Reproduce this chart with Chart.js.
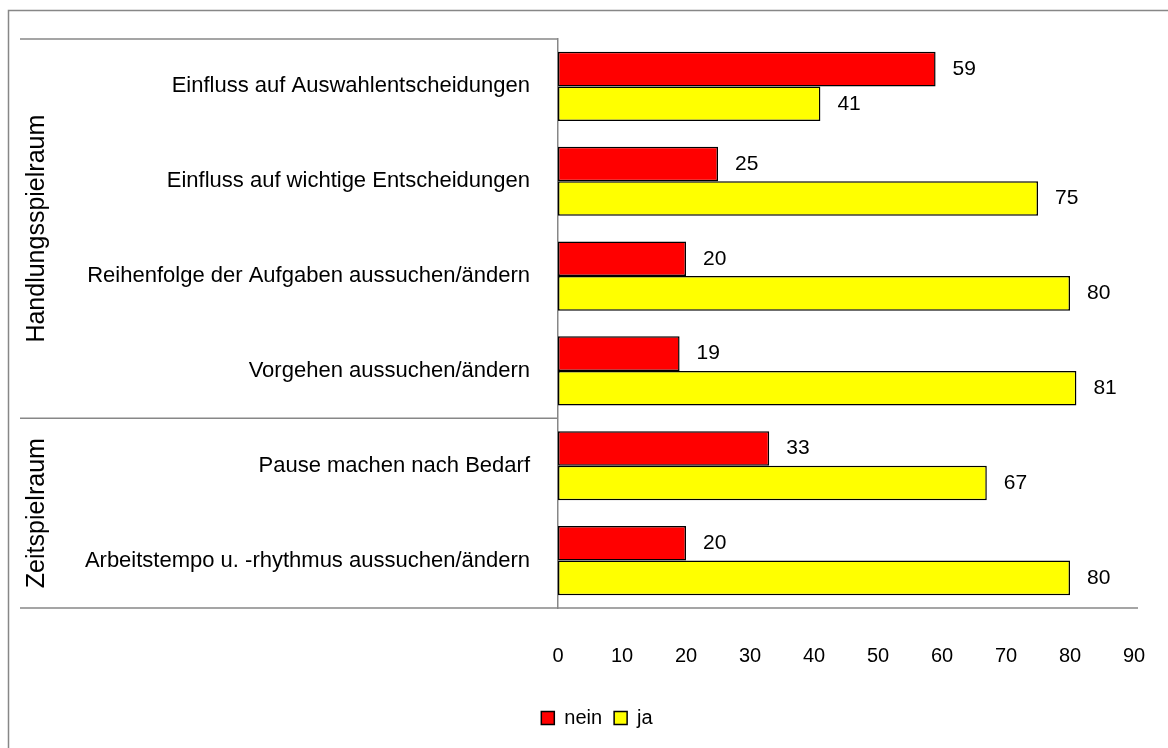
<!DOCTYPE html>
<html>
<head>
<meta charset="utf-8">
<script src="https://cdn.jsdelivr.net/npm/chart.js@4/dist/chart.umd.min.js"></script>
<style>
  html, body { margin: 0; padding: 0; background: #fff; }
  #wrap { width: 1168px; height: 748px; }
</style>
</head>
<body>
<div id="wrap"><canvas id="chart" width="1168" height="748"></canvas></div>
<script>
// Daten (Prozent)
const categories = [
    'Einfluss auf Auswahlentscheidungen',
    'Einfluss auf wichtige Entscheidungen',
    'Reihenfolge der Aufgaben aussuchen/ändern',
    'Vorgehen aussuchen/ändern',
    'Pause machen nach Bedarf',
    'Arbeitstempo u. -rhythmus aussuchen/ändern'
];
const neinValues = [59, 25, 20, 19, 33, 20];
const jaValues = [41, 75, 80, 81, 67, 80];
const groupNames = ['Handlungsspielraum', 'Zeitspielraum'];
const groupSizes = [4, 2];
const xTicks = [0, 10, 20, 30, 40, 50, 60, 70, 80, 90];

const FONT = 'Liberation Sans, Arial, sans-serif';
const LINE = '#878787';

// Rahmen, Tabellenlinien und Gruppenbeschriftungen
const tablePlugin = {
    id: 'tableLines',
    afterLayout(chart) {
        // Legende etwas nach rechts, wie im Original
        if (chart.legend) {
            chart.legend.left += 30;
            chart.legend.right += 30;
        }
    },
    beforeDraw(chart) {
        const ctx = chart.ctx;
        ctx.save();
        ctx.strokeStyle = LINE;
        ctx.lineWidth = 1.5;
        ctx.beginPath();
        ctx.moveTo(8.5, chart.height);
        ctx.lineTo(8.5, 10.5);
        ctx.lineTo(chart.width, 10.5);
        ctx.stroke();
        ctx.restore();
    },
    afterDraw(chart) {
        const ctx = chart.ctx;
        const area = chart.chartArea;
        const y = chart.scales.y;
        const left = 20;
        ctx.save();
        ctx.strokeStyle = LINE;
        ctx.lineWidth = 1.5;

        // Linien oben, zwischen den Gruppen und unten
        const bounds = [area.top];
        let idx = 0;
        groupSizes.forEach(n => {
            idx += n;
            if (idx < categories.length) {
                bounds.push((y.getPixelForValue(idx - 1) + y.getPixelForValue(idx)) / 2);
            }
        });
        bounds.forEach(b => {
            ctx.beginPath();
            ctx.moveTo(left, b);
            ctx.lineTo(area.left, b);
            ctx.stroke();
        });
        ctx.beginPath();
        ctx.moveTo(left, area.bottom);
        ctx.lineTo(area.right + 4, area.bottom);
        ctx.stroke();
        bounds.push(area.bottom);

        // Gruppennamen, gedreht
        ctx.fillStyle = '#000';
        ctx.font = '25px ' + FONT;
        ctx.textAlign = 'center';
        ctx.textBaseline = 'middle';
        groupNames.forEach((name, i) => {
            const cy = (bounds[i] + bounds[i + 1]) / 2;
            ctx.save();
            ctx.translate(37, cy);
            ctx.rotate(-Math.PI / 2);
            ctx.fillText(name, 0, 0);
            ctx.restore();
        });
        ctx.restore();
    }
};

// Werte rechts neben den Balken
const valueLabels = {
    id: 'valueLabels',
    afterDatasetsDraw(chart) {
        const ctx = chart.ctx;
        ctx.save();
        ctx.fillStyle = '#000';
        ctx.font = '21px ' + FONT;
        ctx.textAlign = 'left';
        ctx.textBaseline = 'middle';
        chart.data.datasets.forEach((ds, i) => {
            chart.getDatasetMeta(i).data.forEach((bar, j) => {
                ctx.fillText(String(ds.data[j]), bar.x + 17, bar.y);
            });
        });
        ctx.restore();
    }
};

const PAD_BOTTOM = 10;

new Chart(document.getElementById('chart'), {
    type: 'bar',
    data: {
        labels: categories,
        datasets: [
            {
                label: 'nein',
                data: neinValues,
                backgroundColor: '#FF0000',
                borderColor: '#000',
                borderWidth: 1.5,
                borderSkipped: false
            },
            {
                label: 'ja',
                data: jaValues,
                backgroundColor: '#FFFF00',
                borderColor: '#000',
                borderWidth: 1.5,
                borderSkipped: false
            }
        ]
    },
    options: {
        indexAxis: 'y',
        responsive: false,
        animation: false,
        datasets: {
            bar: {
                barPercentage: 1,
                categoryPercentage: 0.73
            }
        },
        layout: {
            padding: { top: 39, right: 34, left: 0, bottom: PAD_BOTTOM }
        },
        plugins: {
            legend: {
                position: 'bottom',
                labels: {
                    color: '#000',
                    font: { family: FONT, size: 20 },
                    boxWidth: 13,
                    boxHeight: 13,
                    padding: 12
                }
            },
            tooltip: { enabled: false }
        },
        scales: {
            x: {
                min: 0,
                max: 90,
                afterBuildTicks(scale) {
                    scale.ticks = xTicks.map(v => ({ value: v }));
                },
                afterFit(scale) {
                    const lh = scale.chart.legend ? scale.chart.legend.height : 0;
                    scale.height = 748 - 608 - PAD_BOTTOM - lh;
                    scale.paddingLeft = 0;
                    scale.paddingRight = 0;
                },
                grid: { display: false },
                border: { display: false },
                ticks: {
                    color: '#000',
                    padding: 28,
                    font: { family: FONT, size: 20 }
                }
            },
            y: {
                afterFit(scale) {
                    scale.width = 558;
                },
                grid: { display: false },
                border: { display: true, color: LINE, width: 1.5 },
                ticks: {
                    color: '#000',
                    padding: 20,
                    font: { family: FONT, size: 22 }
                }
            }
        }
    },
    plugins: [tablePlugin, valueLabels]
});
</script>
</body>
</html>
